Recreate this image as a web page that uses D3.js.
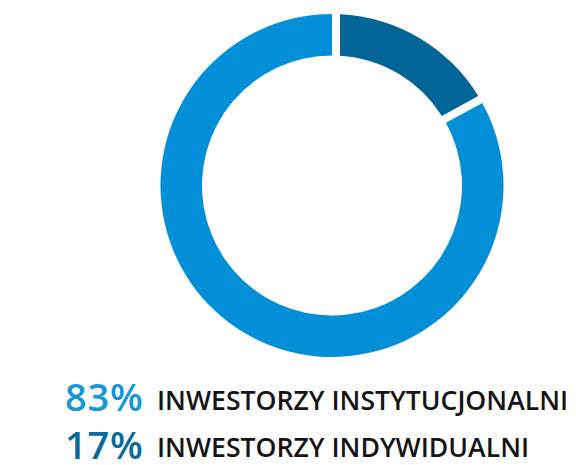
<!DOCTYPE html>
<html>
<head>
<meta charset="utf-8">
<script src="https://cdn.jsdelivr.net/npm/d3@7"></script>
<style>
  body { margin: 0; background: #fff; }
  svg { display: block; }
</style>
</head>
<body>
<div></div>
<script>
// data
var categories = ["INWESTORZY INDYWIDUALNI", "INWESTORZY INSTYTUCJONALNI"];
var values = [17, 83];
var colors = ["#016598", "#038fd7"];
// legend order (top to bottom)
var legendOrder = ["INWESTORZY INSTYTUCJONALNI", "INWESTORZY INDYWIDUALNI"];
var legendColors = ["#1597d8", "#0a6a9c"];

var width = 576;
var height = 465;
var cx = 332, cy = 185.5;
var outerR = 171.5, innerR = 130;

var svg = d3
  .select("body")
  .select("div")
  .append("svg")
  .attr("width", width)
  .attr("height", height);

var data = categories.map(function(c, i) {
  return { name: c, value: values[i], color: colors[i] };
});

var pie = d3.pie()
  .sort(null)
  .value(function(d) { return d.value; });

var arcs = pie(data);
// only the small slice is inset, the big one keeps its full edges
var gap = 8;
arcs.forEach(function(a, i) {
  a.padAngle = i == 0 ? 2 * Math.asin(gap / outerR) : 0;
});

var arc = d3.arc()
  .innerRadius(innerR)
  .outerRadius(outerR)
  .padRadius(outerR);

var chartGroup = svg.append("g")
  .attr("transform", "translate(" + cx + "," + cy + ")");

chartGroup.selectAll("path")
  .data(arcs)
  .enter()
  .append("path")
  .attr("d", arc)
  .attr("fill", function(d) { return d.data.color; });

// legend
var legend = svg.append("g")
  .selectAll("g")
  .data(legendOrder)
  .enter()
  .append("g")
  .attr("transform", function(d, i) {
    return "translate(0," + (411 + i * 47.5) + ")";
  });

legend.append("text")
  .attr("x", 65)
  .attr("y", 0)
  .style("font-family", "'Open Sans', sans-serif")
  .style("font-weight", 600)
  .style("font-size", "38px")
  .style("letter-spacing", "0.8px")
  .style("fill", function(d, i) { return legendColors[i]; })
  .text(function(d) {
    return values[categories.indexOf(d)] + "%";
  });

legend.append("text")
  .attr("x", 157)
  .attr("y", -1.5)
  .style("font-family", "'Open Sans', sans-serif")
  .style("font-weight", 600)
  .style("font-size", "26.6px")
  .style("fill", "#151515")
  .text(function(d) { return d; });
</script>
</body>
</html>
